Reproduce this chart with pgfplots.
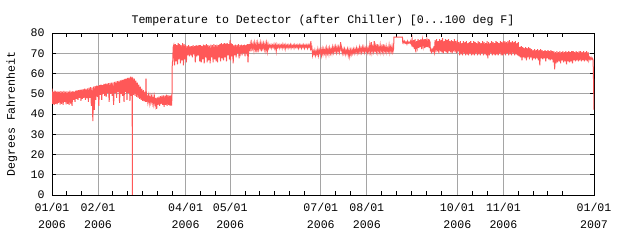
\documentclass[border=0pt]{standalone}
\usepackage{pgfplots}
\pgfplotsset{compat=1.18}
\usepackage{fontspec}
\setmainfont{Liberation Mono}
\definecolor{dataRed}{RGB}{255,88,88}
\definecolor{gridGray}{RGB}{165,165,165}
\begin{document}
\begin{tikzpicture}
\useasboundingbox (0,0) rectangle (640bp,240bp);
\begin{axis}[
  at={(52bp,45bp)}, anchor=south west,
  scale only axis, width=542bp, height=162bp,
  xmin=0, xmax=365, ymin=0, ymax=80,
  axis line style={black, line width=1bp},
  font=\fontsize{11.6bp}{14bp}\selectfont,
  /pgf/number format/assume math mode=true,
  xtick={0,31,90,120,181,212,273,304,365},
  xticklabels={{01/01\\[2.5bp]2006},{02/01\\[2.5bp]2006},{04/01\\[2.5bp]2006},{05/01\\[2.5bp]2006},{07/01\\[2.5bp]2006},{08/01\\[2.5bp]2006},{10/01\\[2.5bp]2006},{11/01\\[2.5bp]2006},{01/01\\[2.5bp]2007}},
  xticklabel style={align=center, font=\fontsize{11.6bp}{14bp}\selectfont, yshift=-5bp},
  minor xtick={10,20,41,51,61,71,81,100,110,130,140,150,160,170,191,201,222,232,242,252,262,283,293,314,324,334,344},
  ytick={0,10,...,80},
  yticklabel style={font=\fontsize{11.6bp}{14bp}\selectfont, xshift=-4bp},
  xmajorgrids, ymajorgrids,
  major grid style={gridGray, line width=1bp},
  major tick length=4bp, minor tick length=4bp,
  tick style={black, line width=1bp},
  major x tick style={draw=none},
  tick pos=both, tick align=inside,
  title={Temperature to Detector (after Chiller) [0...100 deg F]},
  every axis title/.style={at={(axis description cs:0.5,1)}, anchor=base, yshift=10bp, font=\fontsize{11.6bp}{14bp}\selectfont},
  ylabel={Degrees Fahrenheit},
  every axis y label/.style={at={(axis description cs:-0.0738,0.5)}, rotate=90, anchor=center, font=\fontsize{11.6bp}{14bp}\selectfont},
]
\addplot[dataRed, line width=1bp, mark=none] coordinates {
(0,52.5)(0.5,45)(1,51)(1.5,44.5)(2,51.5)(2.5,45)(3,51)(3.5,44.8)(4,51.2)(4.5,45.5)
(5,51)(5.5,44.6)(6,51.3)(6.5,45)(7,51)(7.5,44.5)(8,51.4)(8.5,46)(9,51)(9.5,44.8)
(10,51.2)(10.5,45)(11,51)(11.5,44.5)(12,51.5)(12.5,45.2)(13,51)(13.5,44)(14,51.3)(14.5,47)
(15,51)(15.5,46)(16,51.5)(16.5,47.5)(17,51.6)(17.5,47)(18,51.8)(18.5,48)(19,52)(19.5,46.5)
(20,52)(20.5,47.5)(21,52.3)(21.5,48)(22,52.5)(22.5,47)(23,52.4)(23.5,47.8)(24,52.7)(24.5,46)
(25,53)(25.5,48)(26,53.2)(26.5,44)(27,53)(27.5,36.5)(28,53.5)(28.5,42)(29,53.7)(29.5,47)
(30,54)(30.5,48.5)(31,54)(31.5,44)(32,54.2)(32.5,49.5)(33,54.5)(33.5,47)(34,54.3)(34.5,50)
(35,54.8)(35.5,49)(36,55)(36.5,48.5)(37,55)(37.5,50.5)(38,55.2)(38.5,46)(39,55.3)(39.5,50)
(40,55.5)(40.5,49)(41,55.5)(41.5,44.5)(42,55.8)(42.5,50.5)(43,56)(43.5,48)(44,56.2)(44.5,51)
(45,56.3)(45.5,45.5)(46,56.6)(46.5,50)(47,56.8)(47.5,49)(48,57)(48.5,46)(49,57.3)(49.5,51)
(50,57.5)(50.5,47)(51,57.8)(51.5,50.5)(52,58)(52.5,46.5)(53,58.5)(53.5,49)(54,58.3)(54.1,0)
(54.2,50)(54.5,57.8)(55,49.5)(55.5,57.5)(56,49)(56.5,56.5)(57,48.5)(57.5,55.5)(58,48)(58.5,54.5)
(59,47.5)(59.5,53.5)(60,47)(60.5,52.5)(61,46.5)(61.5,51.8)(62,46.2)(62.5,51)(63,46)(63.3,57.5)
(63.6,46)(64,49.5)(64.5,46)(65,49)(65.5,45.5)(66,48.8)(66.5,45.8)(67,48.5)(67.5,45.5)(68,48.5)
(68.5,45)(69,48.3)(69.5,44.5)(70,48)(70.5,42.5)(71,48.2)(71.5,44.5)(72,48.5)(72.5,44)(73,48.8)
(73.5,45)(74,49)(74.5,44.5)(75,49.2)(75.5,43.5)(76,49)(76.5,44.5)(77,49.5)(77.5,44)(78,49.3)
(78.5,44.5)(79,49)(79.5,44)(80,49.2)(80.5,44.2)(80.8,49)(81,65.5)(81.3,66)(81.6,73)(82,74)
(82.5,64)(83,74.5)(83.5,66)(84,74)(84.5,64.5)(85,75)(85.5,67)(86,74.5)(86.5,65)(87,74)
(87.5,66.5)(88,75)(88.5,64)(89,74.5)(89.5,67)(90,74)(90.5,65.5)(91,73.5)(91.5,69)(92,74)
(92.5,68.5)(93,73.5)(93.5,69)(94,73.5)(94.5,68)(95,74)(95.5,69.5)(96,73.5)(96.5,65.5)(97,74)
(97.5,68.5)(98,73.8)(98.5,69)(99,74)(99.5,66)(100,74)(100.5,65.5)(101,73.5)(101.5,67)(102,74.2)
(102.5,65)(103,74)(103.5,68)(104,74.5)(104.5,65.5)(105,74)(105.5,66.5)(106,73.8)(106.5,65)(107,74.2)
(107.5,68)(108,74)(108.5,65.5)(109,74.5)(109.5,67)(110,74)(110.5,66)(111,74.3)(111.5,65.5)(112,74)
(112.5,68)(113,74.5)(113.5,66)(114,75)(114.5,67.5)(115,74.5)(115.5,66.5)(116,75)(116.5,68)(117,74.8)
(117.5,66)(118,75)(118.5,69)(119,74.5)(119.5,67)(119.9,76.5)(120.2,66.5)(120.6,75)(121,68.5)(121.5,74.5)
(122,65)(122.5,74)(123,69)(123.5,74.2)(124,68)(124.5,74)(125,70)(125.5,74.5)(126,67.5)(126.5,74)
(127,70.5)(127.5,74.2)(128,69)(128.5,74)(129,70)(129.5,74.3)(130,68.5)(130.5,74)(131,71)(131.5,74.5)
(132,65.5)(132.5,74.5)(133,72)(133.5,74.5)(134,71)(134.5,75)(135,72.5)(135.5,74.5)(136,71.5)(136.5,75)
(137,72)(137.5,74.5)(138,70.5)(138.5,74.8)(139,72)(139.5,74.5)(140,72.5)(140.5,75)(141,71)(141.5,74.5)
(142,72.5)(142.5,74.8)(143,72)(143.5,74.5)(144,71.5)(144.5,74.8)(145,71)(145.5,74.5)(146,72.5)(146.5,74)
(147,73)(147.5,74.2)(148,72.5)(148.5,74)(149,73)(149.5,74.5)(150,72.5)(150.5,74)(151,71)(151.5,74.3)
(152,73)(152.5,74)(153,72.5)(153.5,74.2)(154,73)(154.5,74)(155,72.5)(155.5,74.5)(156,73)(156.5,74)
(157,72)(157.5,74.2)(158,73)(158.5,74)(159,72.5)(159.5,74)(160,73)(160.5,74.3)(161,72.5)(161.5,74)
(162,73)(162.5,74)(163,72.5)(163.5,74.2)(164,73)(164.5,74)(165,72.8)(165.5,74)(166,72.5)(166.5,74.2)
(167,73)(167.5,74)(168,72.5)(168.5,74)(169,73)(169.5,74.2)(170,72.5)(170.5,74)(171,73)(171.5,74)
(172,72.5)(172.5,74.2)(173,73)(173.5,74)(174,72.5)(174.3,76)(174.7,72.5)(175,73)(175.5,69)(176,71)
(176.5,69.5)(177,71.5)(177.5,69)(178,71)(178.5,69.5)(179,72)(179.5,69)(180,71.5)(180.5,70)(181,72)
(181.5,69)(182,72)(182.5,69.5)(183,72)(183.5,70)(184,72)(184.5,69)(185,72.5)(185.5,70)(186,72)
(186.5,69.5)(187,72.5)(187.5,70)(188,72)(188.5,70)(189,73)(189.5,70.5)(190,73)(190.5,71)(191,73.2)
(191.5,70.5)(192,73)(192.5,71)(193,73)(193.5,70.5)(194,73)(194.4,75.5)(194.7,71)(195,72.5)(195.5,70)
(196,72)(196.5,70)(197,72)(197.5,69.5)(198,71.5)(198.5,70)(199,72)(199.5,69)(200,71.5)(200.5,68.5)
(201,71.5)(201.5,69.5)(202,71.8)(202.5,70)(203,72)(203.5,70)(204,72)(204.5,70.5)(205,72.5)(205.5,70)
(206,72)(206.5,70.5)(207,73)(207.5,70.5)(208,72.5)(208.5,70.5)(209,73)(209.5,71)(210,73)(210.5,70.5)
(211,72.5)(211.5,71)(212,73)(212.5,70.5)(213,72.5)(213.5,70.5)(214,74)(214.5,71)(215,75.5)(215.5,70.5)
(216,73)(216.5,71)(217,76)(217.5,70.5)(218,73.5)(218.5,71)(219,74.5)(219.5,70.5)(220,73)(220.5,71)
(221,74)(221.5,70.5)(222,73)(222.5,71)(223,74.5)(223.5,70.5)(224,73)(224.5,71)(225,73.5)(225.5,70.5)
(226,72.5)(226.5,71)(227,74)(227.5,70.5)(228,73)(228.5,71)(229,73.5)(229.5,70.5)(230,72)(230.3,78)
(236,78)(236.2,75.5)(236.5,76)(237,75)(237.5,76)(238,75)(238.5,75.5)(239,74.5)(239.5,76)(240,75)
(240.5,75.5)(241,75)(241.5,76)(242,74.5)(242.5,77)(243,73)(243.5,76.5)(244,72)(244.5,77)(245,70.5)
(245.5,76)(246,73)(246.5,77)(247,72.5)(247.5,76.5)(248,73)(248.5,77)(249,72)(249.5,76.5)(250,73.5)
(250.5,77)(251,72.5)(251.5,77)(252,73)(252.5,76.5)(253,73)(253.5,77)(254,72.5)(254.3,76)(254.6,75.5)
(254.8,71)(255,72)(255.5,70.5)(256,72)(256.5,71)(257,72.5)(257.5,70.5)(258,76.5)(258.5,70.5)(259,77)
(259.5,71)(260,76)(260.5,70)(261,77)(261.5,71)(262,76.5)(262.5,70.5)(263,77.5)(263.5,70)(264,76)
(264.5,71)(265,77)(265.5,70.5)(266,76.5)(266.5,70)(267,77)(267.5,71)(268,76)(268.5,70.5)(269,76.5)
(269.5,70)(270,76)(270.5,71)(271,77)(271.5,70.5)(272,76)(272.5,70)(273,76.5)(273.5,71)(274,75.5)
(274.5,69)(275,76)(275.5,69.5)(276,75)(276.5,69)(277,76)(277.5,70)(278,75.5)(278.5,69)(279,76)
(279.5,69.5)(280,75)(280.5,69)(281,75.5)(281.5,70)(282,76)(282.5,69)(283,75)(283.5,69.5)(284,76)
(284.5,69)(285,75.5)(285.5,70)(286,75)(286.5,69)(287,76)(287.5,69.5)(288,75.5)(288.5,69)(289,75)
(289.5,70)(290,76)(290.5,69)(291,75.5)(291.5,69.5)(292,75)(292.5,69)(293,76)(293.5,67.5)(294,75.5)
(294.5,69)(295,75)(295.5,70)(296,76)(296.5,69)(297,75.5)(297.5,69.5)(298,75)(298.5,69)(299,76)
(299.5,69.5)(300,75.5)(300.5,69)(301,75)(301.5,70)(302,76)(302.5,69)(303,75.5)(303.5,69)(304,76)
(304.5,69.5)(305,76)(305.5,69)(306,75.5)(306.5,70)(307,76)(307.5,69)(308,76.5)(308.5,69.5)(309,75.5)
(309.5,69)(310,76)(310.5,70)(311,75.5)(311.5,69)(312,76)(312.5,69.5)(313,75)(313.5,69)(314,75.5)
(314.5,68.5)(315,73)(315.5,68)(316,73.5)(316.5,66.5)(317,73)(317.5,68)(318,72.5)(318.5,67.5)(319,73)
(319.5,66.5)(320,72.5)(320.5,68)(321,73)(321.5,67)(322,72.5)(322.5,68)(323,72)(323.5,66.5)(324,71.5)
(324.5,67.5)(325,72)(325.5,67)(326,71.5)(326.5,67.5)(327,72)(327.5,66.5)(328,71.5)(328.5,64)(329,72)
(329.5,67.5)(330,71.5)(330.5,67)(331,71)(331.5,67.5)(332,71.5)(332.5,66)(333,71)(333.5,67.5)(334,71.5)
(334.5,67)(335,71)(335.5,66.5)(336,71.5)(336.5,67)(337,71)(337.5,65.5)(338,71)(338.5,62)(339,70.5)
(339.5,65)(340,71)(340.5,65.5)(341,70.5)(341.5,66)(342,71)(342.5,65)(343,70.5)(343.5,66.5)(344,71)
(344.5,65.5)(345,70.5)(345.5,66)(346,71)(346.5,64.5)(347,70.5)(347.5,66)(348,71)(348.5,65.5)(349,70.5)
(349.5,66)(350,71)(350.5,65)(351,71)(351.5,66.5)(352,70.5)(352.5,66)(353,71)(353.5,66.5)(354,70.5)
(354.5,66)(355,71)(355.5,66.5)(356,71)(356.5,66)(357,70.5)(357.5,66.5)(358,71)(358.5,66)(359,70.5)
(359.5,66.5)(360,71)(360.5,66)(361,70.5)(361.5,66.5)(362,68)(362.5,67)(363,68)(363.5,67)(364,67.5)
(364.4,66.5)(364.7,56)(365,42)
};
\end{axis}
\end{tikzpicture}
\end{document}
